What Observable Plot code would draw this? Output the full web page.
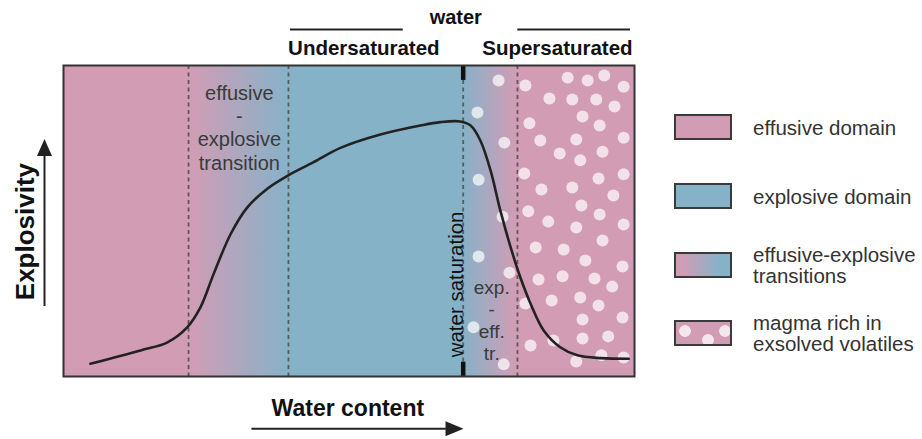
<!DOCTYPE html>
<html><head><meta charset="utf-8">
<script src="https://cdn.jsdelivr.net/npm/d3@7"></script>
<script src="https://cdn.jsdelivr.net/npm/@observablehq/plot@0.6"></script>
<style>
body{margin:0;background:#fff;font-family:"Liberation Sans",Arial,sans-serif;}
#wrap{position:relative;width:922px;height:439px;}
.row{position:absolute;left:674px;height:26px;}
.sw{position:absolute;left:0;top:0;width:58px;height:26px;box-sizing:border-box;border:2px solid #3a3a3a;}
.lt{position:absolute;left:79px;top:50%;transform:translateY(-50%);white-space:nowrap;font-size:20.5px;line-height:21px;color:#333;}
</style></head><body><div id="wrap"></div>
<script>
// ---- data (x: water content 0-100, y: explosivity 0-100) ----
const curveX = [4.7, 13.5, 18.2, 21.7, 24.0, 26.3, 29.3, 32.2, 35.7, 39.3, 43.8, 48.5, 55.5, 62.5, 66.0, 69.5, 71.3, 73.0, 74.8, 76.5, 78.3, 80.0, 81.8, 84.1, 87.0, 90.0, 94.1, 99.0];
const curveY = [4.1, 8.4, 11.0, 15.9, 22.3, 33.0, 45.9, 54.4, 60.4, 64.6, 68.9, 73.5, 77.8, 80.7, 81.8, 82.0, 80.7, 75.9, 66.2, 53.4, 41.6, 31.9, 23.4, 14.8, 9.4, 6.8, 5.9, 5.7];
const zoneEdges = [0, 21.9, 39.4, 70.0, 79.5, 100];
const zoneKind = ["effusive", "transition", "explosive", "transition", "effusive"];
const saturationX = 70.0;
const bubbleX = [76.2,80.9,88.3,91.8,94.7,98.1,85.1,89.1,93.3,96.5,72.5,90.9,81.6,93.9,77.2,83.5,89.8,98.1,86.9,94.4,90.5,80.7,72.7,93.7,98.1,83.7,89.1,96.3,90.7,81.4,93.9,76.9,84.9,89.8,98.1,94.4,82.7,87.6,72.7,91.4,97.9,78.1,83.2,87.4,93.0,96.1,80.9,85.5,90.5,93.7,90.9,97.9,71.8,85.8,90.9,95.4,81.8,89.8,94.2,98.1,77.1];
const bubbleY = [95.2,93.6,96.1,95.2,96.8,93.2,89.4,89.1,89.1,86.8,84.9,83.6,81.4,80.7,75.2,75.9,76.2,76.8,71.7,72.3,69.5,65.3,63.3,63.7,65.0,60.1,60.8,58.2,55.0,53.1,52.1,51.4,49.8,47.9,48.9,43.7,41.5,40.8,38.6,37.3,35.4,33.4,31.2,32.2,31.5,28.9,23.5,24.4,25.4,22.8,18.3,19.0,15.8,11.6,12.2,12.9,10.0,4.8,6.8,6.1,3.9];
const headerLabels = ["water", "Undersaturated", "Supersaturated"];
const headerX = [68.7, 52.6, 86.5];
const bracketSpans = [[39.75, 59.5], [79.56, 99.3]];
const transitionLabel = "effusive\n-\nexplosive\ntransition";
const transitionLabelPos = [30.8, 80.1];
const reverseLabel = "exp.\n-\neff.\ntr.";
const reverseLabelPos = [75.0, 18.1];
const saturationLabel = "water saturation";
const saturationLabelPos = [68.8, 29.6];
const xTitle = "Water content", xTitleX = 49.8;
const yTitle = "Explosivity", yTitleY = 46.6;
const xArrow = [33.0, 70.05];
const yArrow = [22.5, 76.4];
const legendLabels = ["effusive domain", "explosive domain", "effusive-explosive\ntransitions", "magma rich in\nexsolved volatiles"];

// ---- styles ----
const PINK = "#d39cb5", BLUE = "#86b2c8";
const kindColor = {effusive: PINK, explosive: BLUE};

const curve = curveX.map((x, i) => ({x, y: curveY[i]}));
const bubbles = bubbleX.map((x, i) => ({x, y: bubbleY[i]}));
const font = "'Liberation Sans', Arial, sans-serif";

const svg = Plot.plot({
  width: 922, height: 439,
  marginLeft: 63, marginRight: 288, marginTop: 65, marginBottom: 63,
  x: {domain: [0, 100], axis: null},
  y: {domain: [0, 100], axis: null},
  style: {fontFamily: font, background: "white", overflow: "visible"},
  marks: [
    Plot.rect([0], {x1: zoneEdges[0], x2: zoneEdges[zoneEdges.length - 1], y1: 0, y2: 100, fill: "url(#bgGrad)"}),
    Plot.ruleX(zoneEdges.slice(1, -1), {stroke: "#5a5a5a", strokeWidth: 1.8, strokeDasharray: "4,3.5"}),
    Plot.dot(bubbles, {x: "x", y: "y", r: 6, fill: "white", fillOpacity: 0.7, stroke: "none"}),
    Plot.line(curve, {x: "x", y: "y", curve: "catmull-rom", stroke: "#222", strokeWidth: 2.6}),
    Plot.ruleX([saturationX], {y1: 95.2, y2: 100, stroke: "#111", strokeWidth: 4.5}),
    Plot.ruleX([saturationX], {y1: 0, y2: 4.6, stroke: "#111", strokeWidth: 4.5}),
    Plot.frame({stroke: "#333", strokeWidth: 2}),
    Plot.text([transitionLabel], {x: transitionLabelPos[0], y: transitionLabelPos[1], text: d => d, fontSize: 20, lineHeight: 1.165, fill: "#3a3a3a"}),
    Plot.text([reverseLabel], {x: reverseLabelPos[0], y: reverseLabelPos[1], text: d => d, fontSize: 19, lineHeight: 1.16, fill: "#3a3a3a"}),
    Plot.text([saturationLabel], {x: saturationLabelPos[0], y: saturationLabelPos[1], text: d => d, rotate: -90, fontSize: 20.5, fill: "#111"}),
    // header
    Plot.text([headerLabels[0]], {x: headerX[0], text: d => d, frameAnchor: "top", lineAnchor: "middle", dy: -48, fontSize: 20, fontWeight: "bold", fill: "#111"}),
    Plot.text(headerLabels.slice(1), {x: (d, i) => headerX[i + 1], text: d => d, frameAnchor: "top", lineAnchor: "middle", dy: -16.6, fontSize: 20.5, fontWeight: "bold", fill: "#111"}),
    Plot.ruleY(bracketSpans, {x1: d => d[0], x2: d => d[1], y: () => 100, dy: -36, stroke: "#222", strokeWidth: 2}),
    // x title + arrow
    Plot.text([xTitle], {x: xTitleX, text: d => d, frameAnchor: "bottom", lineAnchor: "middle", dy: 32.3, fontSize: 23, fontWeight: "bold", fill: "#111"}),
    Plot.ruleY([0], {x1: xArrow[0], x2: xArrow[1] - 3, dy: 52.3, stroke: "#222", strokeWidth: 2}),
    Plot.vector([0], {x: xArrow[1], y: 0, dy: 52.3, rotate: 90, length: 18, r: 7.5, shape: "spike", anchor: "end", fill: "#222", fillOpacity: 1, stroke: "none"}),
    // y title + arrow
    Plot.text([yTitle], {y: yTitleY, text: d => d, frameAnchor: "left", textAnchor: "middle", lineAnchor: "middle", dx: -38, rotate: -90, fontSize: 26, fontWeight: "bold", fill: "#111"}),
    Plot.ruleX([0], {y1: yArrow[0], y2: yArrow[1] - 3, dx: -19, stroke: "#222", strokeWidth: 2}),
    Plot.vector([0], {x: 0, y: yArrow[1], dx: -19, rotate: 0, length: 17, r: 7.5, shape: "spike", anchor: "end", fill: "#222", fillOpacity: 1, stroke: "none"})
  ]
});

// gradient for the zones, stops taken from the zone edges
const defs = d3.select(svg).insert("defs", ":first-child");
const grad = defs.append("linearGradient").attr("id", "bgGrad").attr("x1", 0).attr("x2", 1).attr("y1", 0).attr("y2", 0);
const span = zoneEdges[zoneEdges.length - 1] - zoneEdges[0];
zoneKind.forEach((k, i) => {
  if (k === "transition") return;
  const c = kindColor[k];
  grad.append("stop").attr("offset", (zoneEdges[i] - zoneEdges[0]) / span).attr("stop-color", c);
  grad.append("stop").attr("offset", (zoneEdges[i + 1] - zoneEdges[0]) / span).attr("stop-color", c);
});

const wrap = document.getElementById("wrap");
wrap.appendChild(svg);

// legend
const swatchBg = [
  PINK,
  BLUE,
  `linear-gradient(to right, ${PINK} 10%, ${BLUE} 80%)`,
  `radial-gradient(circle at 9px 9px, rgba(255,255,255,.75) 5.5px, transparent 6.2px), radial-gradient(circle at 32px 18px, rgba(255,255,255,.75) 5.5px, transparent 6.2px), radial-gradient(circle at 49px 9px, rgba(255,255,255,.75) 5.5px, transparent 6.2px), ${PINK}`
];
const legendTops = [114, 183, 252, 320];
legendLabels.forEach((t, i) => {
  const row = document.createElement("div");
  row.className = "row";
  row.style.top = legendTops[i] + "px";
  const sw = document.createElement("div");
  sw.className = "sw";
  sw.style.background = swatchBg[i];
  const lt = document.createElement("div");
  lt.className = "lt";
  lt.innerHTML = t.split("\n").join("<br>");
  row.appendChild(sw); row.appendChild(lt);
  wrap.appendChild(row);
});
</script></body></html>
